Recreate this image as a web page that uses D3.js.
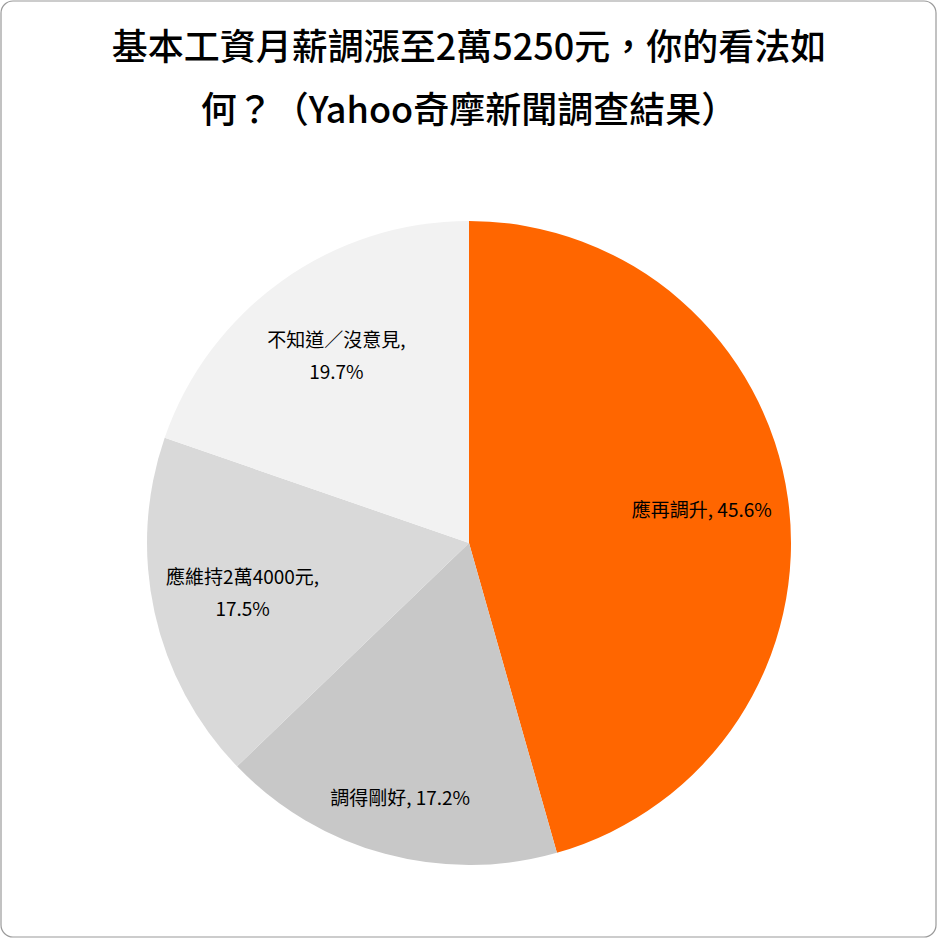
<!DOCTYPE html>
<html>
<head>
<meta charset="utf-8">
<script src="https://cdn.jsdelivr.net/npm/d3@7"></script>
<style>
  body { margin: 0; background: #fff; }
  svg { display: block; }
</style>
</head>
<body>
<div></div>
<script>
const categories = ['應再調升', '調得剛好', '應維持2萬4000元', '不知道／沒意見'];
const values = [45.6, 17.2, 17.5, 19.7];
const colors = ['#ff6600', '#c8c8c8', '#d9d9d9', '#f2f2f2'];
const titleLines = ['基本工資月薪調漲至2萬5250元，你的看法如', '何？（Yahoo奇摩新聞調查結果）'];

const w = 938;
const h = 939;
const cx = 469;
const cy = 543;
const radius = 322;
// where each label sits along its slice, as a share of the radius
const labelRadius = [0.73, 0.82, 0.72, 0.71];

const data = categories.map((c, i) => ({ name: c, value: values[i], color: colors[i] }));

const svg = d3
  .select('div')
  .append('svg')
  .attr('width', w)
  .attr('height', h);

svg
  .append('rect')
  .attr('x', 1)
  .attr('y', 1)
  .attr('width', w - 3)
  .attr('height', h - 3)
  .attr('rx', 12)
  .attr('fill', '#fff')
  .attr('stroke', '#9a9a9a')
  .attr('stroke-width', 1.2);

svg
  .append('g')
  .selectAll('text')
  .data(titleLines)
  .enter()
  .append('text')
  .attr('x', cx)
  .attr('y', (d, i) => 60 + i * 63)
  .attr('text-anchor', 'middle')
  .attr('font-family', '"Noto Sans CJK TC", "Noto Sans CJK JP", sans-serif')
  .attr('font-weight', 500)
  .attr('font-size', 36)
  .attr('fill', '#000')
  .text((d) => d);

const pie = d3.pie().sort(null).value((d) => d.value);
const arcs = pie(data);

const arc = d3.arc().innerRadius(0).outerRadius(radius);

const g = svg.append('g').attr('transform', 'translate(' + cx + ',' + cy + ')');

g.selectAll('path')
  .data(arcs)
  .enter()
  .append('path')
  .attr('d', arc)
  .attr('fill', (d) => d.data.color);

// long names wrap to two lines like the original
const labelLines = (d) => {
  const pct = d.data.value.toFixed(1) + '%';
  if (d.data.name.length > 4) return [d.data.name + ',', pct];
  return [d.data.name + ', ' + pct];
};

const labels = g
  .selectAll('text.label')
  .data(arcs)
  .enter()
  .append('text')
  .attr('class', 'label')
  .attr('text-anchor', 'middle')
  .attr('font-family', '"Noto Sans CJK TC", "Noto Sans CJK JP", sans-serif')
  .attr('font-size', 19)
  .attr('fill', '#000')
  .attr('transform', (d) => {
    const r = radius * labelRadius[d.index];
    const c = d3.arc().innerRadius(r).outerRadius(r).centroid(d);
    return 'translate(' + c[0] + ',' + c[1] + ')';
  });

labels
  .selectAll('tspan')
  .data((d) => {
    const lines = labelLines(d);
    return lines.map((t, i) => ({ t: t, dy: (i - (lines.length - 1) / 2) * 32 }));
  })
  .enter()
  .append('tspan')
  .attr('x', 0)
  .attr('y', (d) => d.dy)
  .attr('dy', '0.35em')
  .text((d) => d.t);
</script>
</body>
</html>
